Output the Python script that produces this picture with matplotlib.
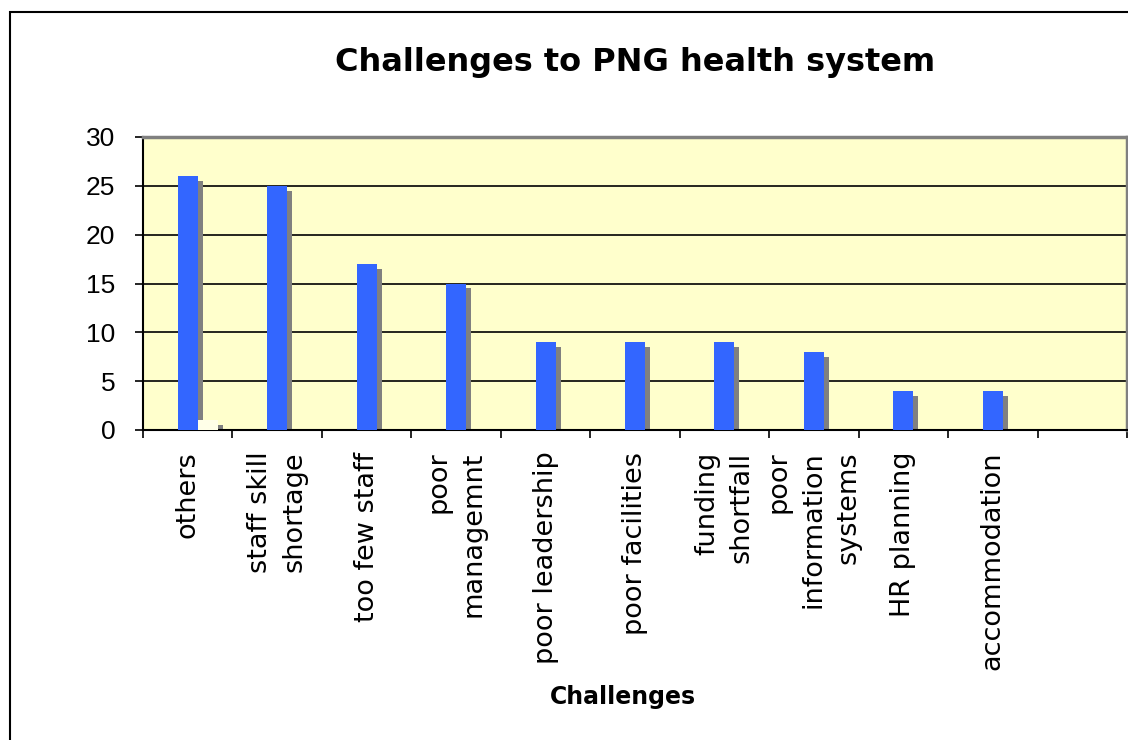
import numpy as np
import matplotlib
matplotlib.use("Agg")
import matplotlib.pyplot as plt
from matplotlib.patches import Rectangle

categories = ["others", "staff skill\nshortage", "too few staff", "poor\nmanagemnt",
              "poor leadership", "poor facilities", "funding\nshortfall",
              "poor\ninformation\nsystems", "HR planning", "accommodation", ""]
counts = [26, 25, 17, 15, 9, 9, 9, 8, 4, 4, 0]
second = [1, 0, 0, 0, 0, 0, 0, 0, 0, 0, 0]

plt.rcParams['font.family'] = 'DejaVu Sans'

fig = plt.figure(figsize=(11.28, 7.40), dpi=100)
ax = fig.add_axes([143 / 1128, 1 - 430 / 740, 984 / 1128, 293 / 740])

x = np.arange(len(categories))
w = 0.223
dx = 0.056   # shadow shift right
dy = 0.5     # shadow shift down
vals = np.array(counts, dtype=float)
sec = np.array(second, dtype=float)

# shadows first
ax.bar(x + dx, np.clip(vals - dy, 0, None), width=w, color='#808080', zorder=2)
ax.bar(x + w + dx, np.clip(sec - dy, 0, None), width=w, color='#808080', zorder=2)
ax.bar(x, vals, width=w, color='#3366FF', zorder=3)
ax.bar(x + w, sec, width=w, color='#FFFFE8', zorder=3)

ax.set_facecolor('#FFFFCC')
ax.set_xlim(-0.5, len(categories) - 0.5)
ax.set_ylim(0, 30)
ax.set_yticks(range(0, 31, 5))
ax.set_yticklabels([str(v) for v in range(0, 31, 5)], family='Liberation Sans', fontsize=19)
ax.yaxis.grid(True, color='black', linewidth=1.2, zorder=1)
ax.set_axisbelow(True)

ax.set_xticks(x)
ax.set_xticklabels(categories, rotation=90, va='top', ha='center',
                   multialignment='right', fontsize=19.5, linespacing=1.45)
ax.set_xticks(np.arange(-0.5, len(categories), 1.0), minor=True)
ax.tick_params(axis='x', which='major', length=0, pad=15.5)
ax.tick_params(axis='x', which='minor', length=6, width=1.2, color='black')
ax.tick_params(axis='y', length=6, width=1.2, pad=14)

for s in ['top', 'right']:
    ax.spines[s].set_color('#808080')
    ax.spines[s].set_linewidth(2.5)
ax.spines['left'].set_linewidth(1.5)
ax.spines['bottom'].set_linewidth(1.5)

fig.text(635 / 1128, 1 - 62 / 740, "Challenges to PNG health system",
         ha='center', va='center', fontsize=23, fontweight='bold')
fig.text(623 / 1128, 1 - 697 / 740, "Challenges",
         ha='center', va='center', fontsize=17, fontweight='bold')

fig.patches.append(Rectangle((10 / 1128, -0.05), 1.2, 1 - 12 / 740 + 0.05,
                             transform=fig.transFigure, fill=False,
                             edgecolor='black', linewidth=1.5))

fig.savefig("out.png", dpi=100)
